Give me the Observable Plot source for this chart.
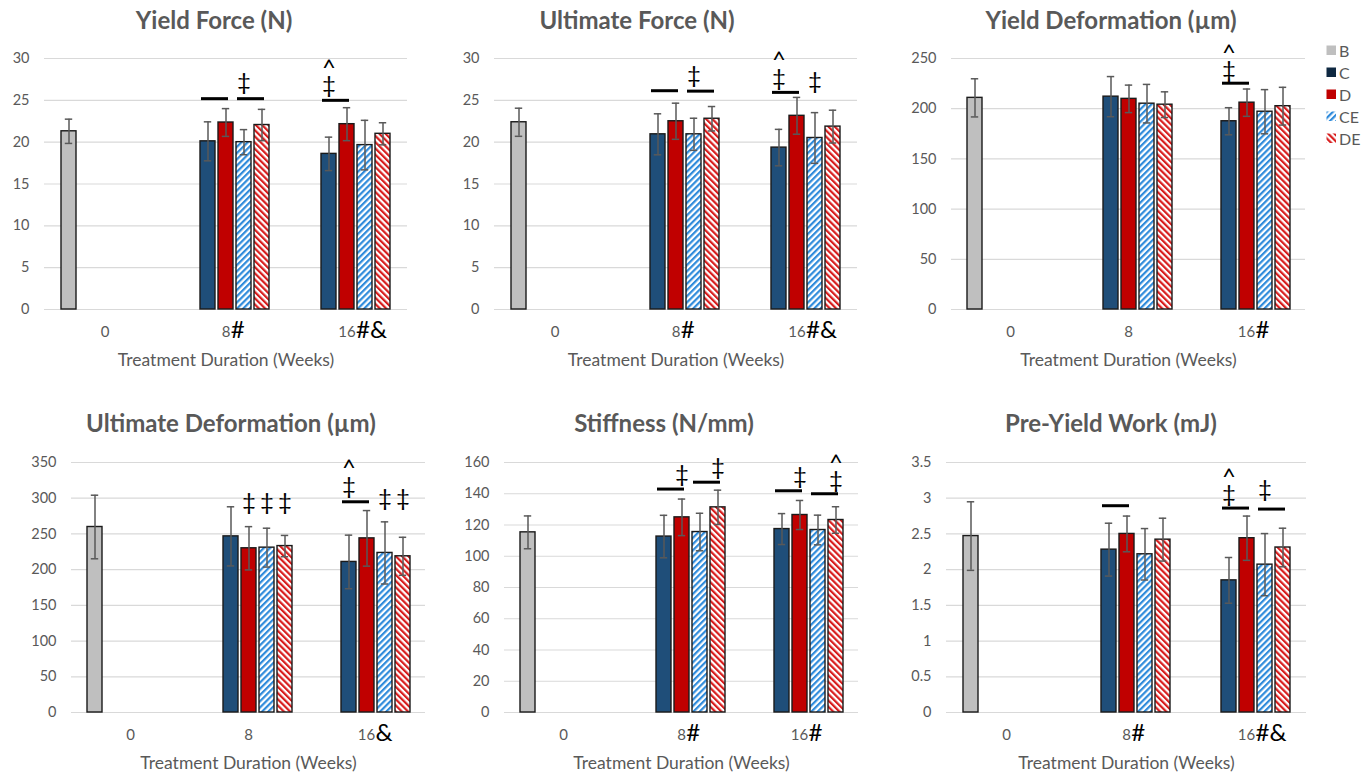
<!DOCTYPE html>
<html>
<head>
<meta charset="utf-8">
<script src="https://cdn.jsdelivr.net/npm/d3@7"></script>
<script src="https://cdn.jsdelivr.net/npm/@observablehq/plot@0.6"></script>
<style>
  html, body { margin: 0; padding: 0; background: #fff; }
  #root { position: relative; width: 1369px; height: 774px; overflow: hidden; font-family: Lato, "Open Sans", sans-serif; }
  .panel { position: absolute; }
  .title { position: absolute; font-weight: bold; font-size: 24px; color: #595959; white-space: nowrap; transform: translateX(-50%); line-height: 1; }
  #legend { position: absolute; left: 1326px; top: 40px; font-size: 16px; color: #595959; }
  #legend .item { display: flex; align-items: center; height: 21.8px; }
  #legend svg { margin-right: 2px; }
</style>
</head>
<body>
<svg width="0" height="0" style="position:absolute">
  <defs>
    <pattern id="pCE" patternUnits="userSpaceOnUse" width="4.4" height="4.4" patternTransform="rotate(45)">
      <rect width="4.4" height="4.4" fill="#ffffff"></rect>
      <rect width="2.2" height="4.4" fill="#2f8bdb"></rect>
    </pattern>
    <pattern id="pDE" patternUnits="userSpaceOnUse" width="4.4" height="4.4" patternTransform="rotate(-45)">
      <rect width="4.4" height="4.4" fill="#ffffff"></rect>
      <rect width="2.2" height="4.4" fill="#d81c1c"></rect>
    </pattern>
  </defs>
</svg>
<div id="root"></div>
<script>
// ---------- data ----------
const weeks = ["0", "8", "16"];
const groups = ["B", "C", "D", "CE", "DE"];
const barWeek  = ["0", "8", "8", "8", "8", "16", "16", "16", "16"];
const barGroup = ["B", "C", "D", "CE", "DE", "C", "D", "CE", "DE"];

const yieldForceMean = [21.3, 20.1, 22.35, 20.0, 22.05, 18.6, 22.15, 19.65, 21.0];
const yieldForceErr  = [1.45, 2.33, 1.66, 1.5, 1.87, 2.0, 1.97, 2.96, 1.32];
const yieldForceLines = [["8", "C", "D", 25.2], ["8", "CE", "DE", 25.2], ["16", "C", "D", 25.0]];
const yieldForceSyms  = [["8", "CE", "‡", 27.2], ["16", "C", "^\n‡", 26.8]];
const yieldForceAxisSyms = [["8", "#"], ["16", "#&"]];

const ultForceMean = [22.38, 20.94, 22.5, 20.94, 22.8, 19.35, 23.15, 20.5, 21.86];
const ultForceErr  = [1.68, 2.45, 2.16, 1.92, 1.46, 2.18, 2.2, 3.03, 1.96];
const ultForceLines = [["8", "C", "D", 26.15], ["8", "CE", "DE", 26.1], ["16", "C", "D", 25.95]];
const ultForceSyms  = [["8", "CE", "‡", 27.95], ["16", "C", "^\n‡", 27.7], ["16", "CE", "‡", 27.3]];
const ultForceAxisSyms = [["8", "#"], ["16", "#&"]];

const yieldDefMean = [210.8, 212.0, 209.8, 205.0, 204.0, 187.5, 206.0, 197.0, 202.5];
const yieldDefErr  = [19.0, 20.0, 13.7, 19.2, 12.8, 13.5, 13.6, 22.0, 18.8];
const yieldDefLines = [["16", "C", "D", 225.4]];
const yieldDefSyms  = [["16", "C", "^\n‡", 238.0]];
const yieldDefAxisSyms = [["16", "#"]];

const ultDefMean = [259.7, 246.6, 229.9, 230.8, 233.0, 210.8, 243.8, 223.4, 218.7];
const ultDefErr  = [44.5, 41.4, 30.3, 27.2, 14.9, 37.5, 38.9, 43.5, 26.6];
const ultDefLines = [["16", "C", "D", 295.0]];
const ultDefSyms  = [["8", "D", "‡", 294.1], ["8", "CE", "‡", 294.1], ["8", "DE", "‡", 294.1],
                     ["16", "C", "^\n‡", 317.4], ["16", "CE", "‡", 300.1], ["16", "DE", "‡", 300.1]];
const ultDefAxisSyms = [["16", "&"]];

const stiffMean = [115.3, 112.6, 124.9, 115.5, 131.3, 117.4, 126.4, 116.8, 123.2];
const stiffErr  = [10.5, 13.6, 11.7, 12.0, 11.0, 9.9, 9.3, 9.5, 8.5];
const stiffLines = [["8", "C", "D", 143.0], ["8", "CE", "DE", 147.4], ["16", "C", "D", 141.9], ["16", "CE", "DE", 140.0]];
const stiffSyms  = [["8", "D", "‡", 152.6], ["8", "DE", "‡", 157.2], ["16", "D", "‡", 151.3], ["16", "DE", "^\n‡", 148.7]];
const stiffAxisSyms = [["8", "#"], ["16", "#"]];

const preYieldMean = [2.47, 2.28, 2.5, 2.215, 2.42, 1.85, 2.44, 2.07, 2.31];
const preYieldErr  = [0.48, 0.37, 0.25, 0.36, 0.3, 0.32, 0.31, 0.435, 0.27];
const preYieldLines = [["8", "C", "D", 2.895], ["16", "C", "D", 2.862], ["16", "CE", "DE", 2.848]];
const preYieldSyms  = [["16", "C", "^\n‡", 3.058], ["16", "CE", "‡", 3.128]];
const preYieldAxisSyms = [["8", "#"], ["16", "#&"]];

const yieldForceTicks = [0, 5, 10, 15, 20, 25, 30];
const ultForceTicks = [0, 5, 10, 15, 20, 25, 30];
const yieldDefTicks = [0, 50, 100, 150, 200, 250];
const ultDefTicks = [0, 50, 100, 150, 200, 250, 300, 350];
const stiffTicks = [0, 20, 40, 60, 80, 100, 120, 140, 160];
const preYieldTicks = [0, 0.5, 1, 1.5, 2, 2.5, 3, 3.5];

// ---------- styling / layout ----------
const fills = ["#bfbfbf", "#1f4e79", "#c00000", "url(#pCE)", "url(#pDE)"];
const legendFills = ["#bfbfbf", "#0e2841", "#c00000", "url(#pCE)", "url(#pDE)"];

const panels = [
  {title: "Yield Force (N)", tx: 214, ty: 8, left: 0, top: 30, width: 450, height: 340, ml: 43, mr: 42, mt: 28, mb: 61,
   mean: yieldForceMean, err: yieldForceErr, lines: yieldForceLines, syms: yieldForceSyms, axisSyms: yieldForceAxisSyms, ticks: yieldForceTicks},
  {title: "Ultimate Force (N)", tx: 637, ty: 8, left: 450, top: 30, width: 450, height: 340, ml: 43, mr: 43, mt: 28, mb: 61,
   mean: ultForceMean, err: ultForceErr, lines: ultForceLines, syms: ultForceSyms, axisSyms: ultForceAxisSyms, ticks: ultForceTicks},
  {title: "Yield Deformation (µm)", tx: 1111, ty: 8, left: 900, top: 30, width: 469, height: 340, ml: 50, mr: 63, mt: 28, mb: 61,
   mean: yieldDefMean, err: yieldDefErr, lines: yieldDefLines, syms: yieldDefSyms, axisSyms: yieldDefAxisSyms, ticks: yieldDefTicks},
  {title: "Ultimate Deformation (µm)", tx: 231, ty: 411, left: 0, top: 430, width: 450, height: 344, ml: 70, mr: 24, mt: 32, mb: 62,
   mean: ultDefMean, err: ultDefErr, lines: ultDefLines, syms: ultDefSyms, axisSyms: ultDefAxisSyms, ticks: ultDefTicks},
  {title: "Stiffness (N/mm)", tx: 664, ty: 411, left: 450, top: 430, width: 450, height: 344, ml: 53, mr: 42, mt: 32, mb: 62,
   mean: stiffMean, err: stiffErr, lines: stiffLines, syms: stiffSyms, axisSyms: stiffAxisSyms, ticks: stiffTicks},
  {title: "Pre-Yield Work (mJ)", tx: 1111, ty: 411, left: 900, top: 430, width: 469, height: 344, ml: 46, mr: 63, mt: 32, mb: 62,
   mean: preYieldMean, err: preYieldErr, lines: preYieldLines, syms: preYieldSyms, axisSyms: preYieldAxisSyms, ticks: preYieldTicks}
];

const root = document.getElementById("root");

function makePanel(p) {
  const bars = barWeek.map((w, i) => ({week: w, group: barGroup[i], mean: p.mean[i], err: p.err[i]}));
  const lines = p.lines.map(([week, from, to, y]) => ({week, from, to, y}));
  const syms = p.syms.map(([week, group, text, y]) => ({week, group, text, y}));
  const axisSyms = p.axisSyms.map(([week, text]) => ({week, text}));
  const symFont = {fontFamily: "Lato", fontSize: 24, fill: "#000"};
  const single = syms.filter(s => !s.text.includes("\n"));
  const stacked = syms.filter(s => s.text.includes("\n"));

  const chart = Plot.plot({
    width: p.width,
    height: p.height,
    marginLeft: p.ml, marginRight: p.mr, marginTop: p.mt, marginBottom: p.mb,
    style: {fontFamily: "Lato, 'Open Sans', sans-serif", background: "transparent", overflow: "visible", color: "#595959"},
    fx: {domain: weeks, padding: 0},
    x: {domain: groups, paddingInner: 0.19, paddingOuter: 0.866, axis: null},
    y: {domain: [0, p.ticks[p.ticks.length - 1]]},
    color: {domain: groups, range: fills},
    marks: [
      Plot.ruleY(p.ticks, {stroke: "#d9d9d9", strokeWidth: 1.2}),
      Plot.axisY({ticks: p.ticks, tickSize: 0, tickPadding: 15, fontSize: 14.5, label: null, tickFormat: d => String(d)}),
      Plot.axisFx({anchor: "bottom", tickSize: 0, tickPadding: 17, fontSize: 15, label: null}),
      Plot.axisFx({anchor: "bottom", ticks: [], tickSize: 0, fontSize: 17.5, label: "Treatment Duration (Weeks)", labelAnchor: "center", labelArrow: "none", labelOffset: 56}),
      Plot.barY(bars, {fx: "week", x: "group", y: "mean", fill: "group", stroke: "#1a1a1a", strokeWidth: 1.4}),
      Plot.ruleX(bars, {fx: "week", x: "group", y1: d => d.mean - d.err, y2: d => d.mean + d.err, stroke: "#595959", strokeWidth: 1.5}),
      Plot.tickY(bars, {fx: "week", x: "group", y: d => d.mean + d.err, stroke: "#595959", strokeWidth: 1.5, inset: 3.8}),
      Plot.tickY(bars, {fx: "week", x: "group", y: d => d.mean - d.err, stroke: "#595959", strokeWidth: 1.5, inset: 3.8}),
      Plot.ruleY(lines, {fx: "week", x1: "from", x2: "to", y: "y", stroke: "#000", strokeWidth: 3, insetLeft: 1, insetRight: 5}),
      Plot.text(single, {fx: "week", x: "group", y: "y", text: "text", lineAnchor: "middle", ...symFont}),
      Plot.text(stacked, {fx: "week", x: "group", y: "y", text: "text", lineAnchor: "middle", lineHeight: 0.72, dy: -6.3, ...symFont}),
      ...axisSyms.map(a => Plot.text([a], {fx: "week", text: "text", frameAnchor: "bottom", textAnchor: "start", lineAnchor: "top",
        dy: 11, dx: a.week.length * 4.3 + 0.5, ...symFont}))
    ]
  });

  const div = document.createElement("div");
  div.className = "panel";
  div.style.left = p.left + "px";
  div.style.top = p.top + "px";
  div.appendChild(chart);
  root.appendChild(div);

  const t = document.createElement("div");
  t.className = "title";
  t.style.left = p.tx + "px";
  t.style.top = p.ty + "px";
  t.textContent = p.title;
  root.appendChild(t);
}

panels.forEach(makePanel);

// legend
const legend = document.createElement("div");
legend.id = "legend";
groups.forEach((g, i) => {
  const item = document.createElement("div");
  item.className = "item";
  item.innerHTML = `<svg width="11" height="11"><rect x="0.5" y="0.5" width="9.5" height="9.5" fill="${legendFills[i]}"></rect></svg><span>${g}</span>`;
  legend.appendChild(item);
});
root.appendChild(legend);
</script>
</body>
</html>
